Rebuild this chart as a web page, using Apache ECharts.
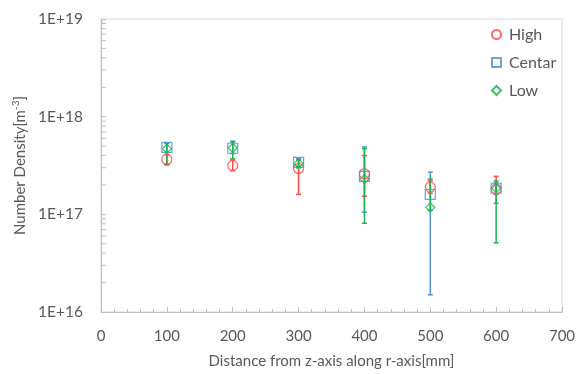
<!DOCTYPE html>
<html>
<head>
<meta charset="utf-8">
<script src="https://cdn.jsdelivr.net/npm/echarts@6/dist/echarts.min.js"></script>
<style>
  html, body { margin: 0; padding: 0; background: #fff; }
  #chart { width: 587px; height: 374px; }
</style>
</head>
<body>
<div id="chart"></div>
<script>
// distance from z-axis [mm]
const distances = [100, 200, 300, 400, 500, 600];

// High
const highValues = [3.65e17, 3.15e17, 2.95e17, 2.6e17, 1.9e17, 1.82e17];
const highLow = [3.25e17, 2.8e17, 1.6e17, 1.53e17, 1.65e17, 1.6e17];
const highHigh = [4.1e17, 3.6e17, 3.7e17, 4.0e17, 2.2e17, 2.45e17];

// Centar
const centarValues = [4.85e17, 4.75e17, 3.4e17, 2.45e17, 1.6e17, 1.85e17];
const centarLow = [4.3e17, 4.2e17, 3.1e17, 1.05e17, 1.5e16, 1.3e17];
const centarHigh = [5.4e17, 5.5e17, 3.7e17, 4.9e17, 2.7e17, 2.1e17];

// Low
const lowValues = [4.7e17, 4.8e17, 3.3e17, 2.3e17, 1.18e17, 1.85e17];
const lowLow = [3.2e17, 3.7e17, 3.0e17, 8.1e16, 1.1e17, 5.1e16];
const lowHigh = [5.3e17, 5.6e17, 3.6e17, 4.7e17, 2.3e17, 2.2e17];

// minor tick marks for the log axis (2..9 of every decade)
const yMinorTicks = [
  2e16, 3e16, 4e16, 5e16, 6e16, 7e16, 8e16, 9e16,
  2e17, 3e17, 4e17, 5e17, 6e17, 7e17, 8e17, 9e17,
  2e18, 3e18, 4e18, 5e18, 6e18, 7e18, 8e18, 9e18
];

const textColor = '#595959';
const fontFamily = 'Lato, "Open Sans", sans-serif';

const red = '#ff4a4a';
const blue = '#4f95d6';
const green = '#1db350';

const chart = echarts.init(document.getElementById('chart'));

function toPoints(vals) {
  return distances.map((x, i) => [x, vals[i]]);
}

function toBars(lo, hi) {
  return distances.map((x, i) => [x, lo[i], hi[i]]);
}

// 误差棒
function errorBarSeries(name, lo, hi, color) {
  return {
    name: name,
    type: 'custom',
    silent: true,
    z: 2,
    encode: { x: 0, y: [1, 2] },
    data: toBars(lo, hi),
    renderItem: (params, api) => {
      const x = api.value(0);
      const pLo = api.coord([x, api.value(1)]);
      const pHi = api.coord([x, api.value(2)]);
      const cap = 2.5;
      const style = { stroke: color, lineWidth: 1.5 };
      return {
        type: 'group',
        children: [
          { type: 'line', shape: { x1: pLo[0], y1: pLo[1], x2: pHi[0], y2: pHi[1] }, style: style },
          { type: 'line', shape: { x1: pLo[0] - cap, y1: pLo[1], x2: pLo[0] + cap, y2: pLo[1] }, style: style },
          { type: 'line', shape: { x1: pHi[0] - cap, y1: pHi[1], x2: pHi[0] + cap, y2: pHi[1] }, style: style }
        ]
      };
    }
  };
}

function markerSeries(name, vals, symbol, size, color) {
  return {
    name: name,
    type: 'scatter',
    z: 3,
    symbol: symbol,
    symbolSize: size,
    data: toPoints(vals),
    itemStyle: {
      color: 'rgba(255,255,255,0)',
      borderColor: color,
      borderWidth: 1.2,
      opacity: 0.85
    },
    emphasis: { disabled: true }
  };
}

const option = {
  animation: false,
  backgroundColor: '#fff',
  textStyle: { fontFamily: fontFamily },
  grid: {
    left: 101,
    top: 19,
    right: 25,
    bottom: 61,
    show: true,
    borderColor: '#d9d9d9',
    borderWidth: 1,
    backgroundColor: 'transparent'
  },
  legend: {
    data: ['High', 'Centar', 'Low'],
    orient: 'vertical',
    left: 486,
    top: 20,
    itemWidth: 9,
    itemHeight: 9,
    itemGap: 9,
    textStyle: { fontSize: 16, lineHeight: 19, color: textColor, fontFamily: fontFamily, padding: [0, 0, 0, 3] }
  },
  xAxis: {
    type: 'value',
    min: 0,
    max: 700,
    interval: 100,
    name: 'Distance from z-axis along r-axis[mm]',
    nameLocation: 'middle',
    nameGap: 42,
    nameTextStyle: { fontSize: 15, color: textColor },
    axisLine: { show: true, lineStyle: { color: '#bfbfbf', width: 1 } },
    axisTick: { show: true, inside: true, length: 5, lineStyle: { color: '#bfbfbf' } },
    minorTick: { show: true, splitNumber: 5, length: 3, lineStyle: { color: '#bfbfbf' } },
    axisLabel: { fontSize: 15, color: textColor, margin: 17 },
    splitLine: { show: false }
  },
  yAxis: {
    type: 'log',
    logBase: 10,
    min: 1e16,
    max: 1e19,
    interval: 1,
    name: '{b|Number Density[m}{sup|-3}{b|]}',
    nameLocation: 'middle',
    nameGap: 72,
    nameTextStyle: {
      color: textColor,
      rich: {
        b: { fontSize: 15, color: textColor, lineHeight: 18, fontFamily: fontFamily },
        sup: { fontSize: 10, color: textColor, lineHeight: 18, verticalAlign: 'top', fontFamily: fontFamily }
      }
    },
    axisLine: { show: true, lineStyle: { color: '#bfbfbf', width: 1 } },
    axisTick: { show: true, inside: true, length: 5, lineStyle: { color: '#bfbfbf' } },
    axisLabel: {
      fontSize: 15.5,
      color: textColor,
      margin: 18,
      formatter: (v) => '1E+' + Math.round(Math.log10(v))
    },
    splitLine: { show: false }
  },
  series: [
    {
      name: 'yMinor',
      type: 'custom',
      silent: true,
      z: 1,
      encode: { x: 0, y: 1 },
      data: yMinorTicks.map((v) => [0, v]),
      renderItem: (params, api) => {
        const p = api.coord([api.value(0), api.value(1)]);
        return {
          type: 'line',
          shape: { x1: p[0], y1: p[1], x2: p[0] + 5, y2: p[1] },
          style: { stroke: '#bfbfbf', lineWidth: 1 }
        };
      }
    },
    errorBarSeries('High err', highLow, highHigh, red),
    markerSeries('High', highValues, 'circle', 10, red),
    errorBarSeries('Centar err', centarLow, centarHigh, blue),
    markerSeries('Centar', centarValues, 'rect', 10, blue),
    errorBarSeries('Low err', lowLow, lowHigh, green),
    markerSeries('Low', lowValues, 'diamond', 9, green)
  ]
};

chart.setOption(option);
</script>
</body>
</html>
